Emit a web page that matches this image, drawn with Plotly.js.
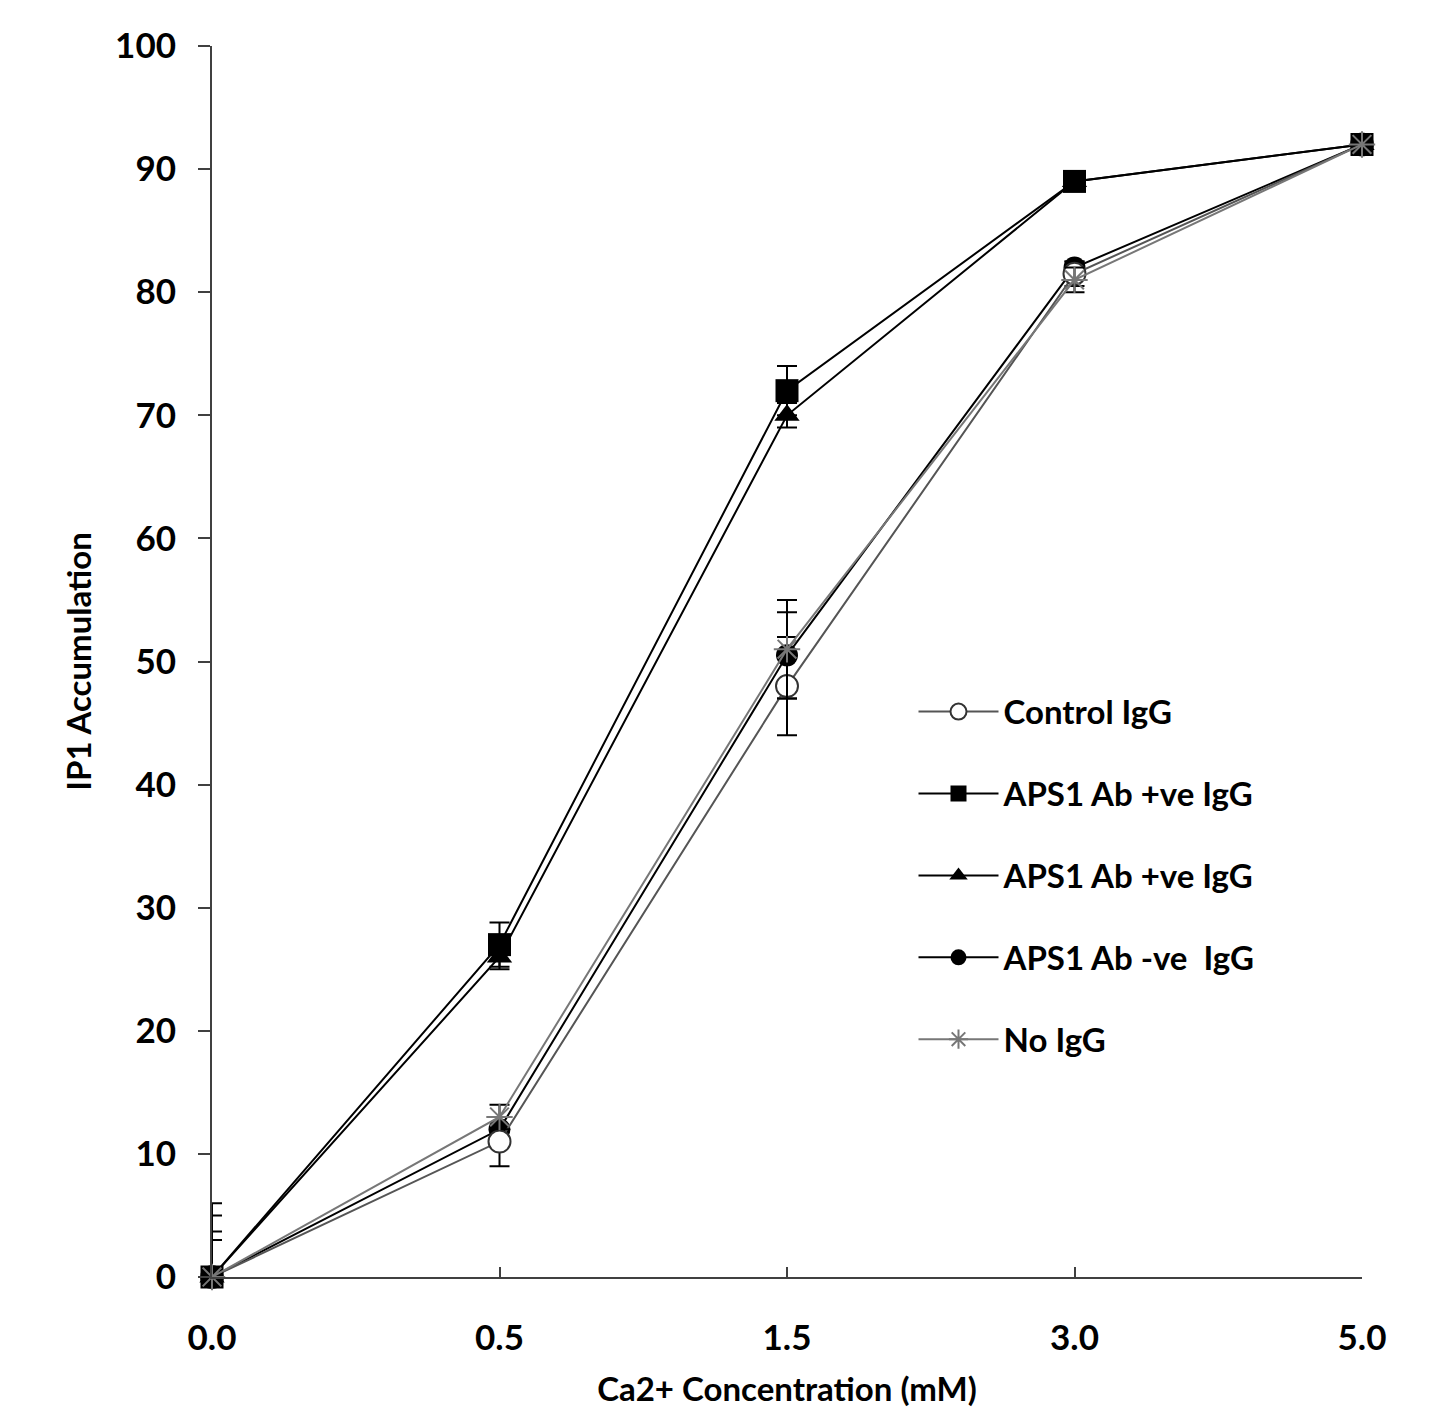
<!DOCTYPE html>
<html>
<head>
<meta charset="utf-8">
<script src="https://cdn.plot.ly/plotly-3.0.1.min.js"></script>
<style>html,body{margin:0;padding:0;background:#fff;}#chart{width:1435px;height:1411px;}</style>
</head>
<body>
<div id="chart"></div>
<script>
var categories = ['0.0', '0.5', '1.5', '3.0', '5.0'];
var seriesNames = ['Control IgG', 'APS1 Ab +ve IgG', 'APS1 Ab +ve IgG', 'APS1 Ab -ve  IgG', 'No IgG'];
var controlIgG = [0, 11, 48, 81.5, 92];
var controlErr = [3, 2, 4, 1, 0.5];
var apsPosSquare = [0, 27, 72, 89, 92];
var apsPosSquareErr = [6, 1.8, 2, 0.5, 0.5];
var apsPosTriangle = [0, 26, 70, 89, 92];
var apsPosTriangleErr = [5, 1, 1, 0.5, 0.5];
var apsNeg = [0, 12, 50.5, 82, 92];
var apsNegErr = [3.7, 1, 3.5, 0.5, 0.5];
var noIgG = [0, 13, 51, 81, 92];
var noIgGErr = [0, 1, 4, 1, 0.5];
var yTickVals = [0, 10, 20, 30, 40, 50, 60, 70, 80, 90, 100];

var FONT = 'Lato, "Open Sans", sans-serif';

function mk(name, y, err, lineColor, symbol, size, mColor, mLine, group, rank) {
  return {
    type: 'scatter', mode: 'lines+markers', x: categories, y: y, name: name,
    legendgroup: group, legendrank: rank, cliponaxis: false,
    line: {color: lineColor, width: 2},
    marker: {symbol: symbol, size: size, color: mColor, line: mLine},
    error_y: {type: 'data', array: err, visible: true, color: '#000', thickness: 2, width: 10}
  };
}

var data = [
  mk(seriesNames[3], apsNeg, apsNegErr, '#000000', 'circle', 22, '#000000', {color: '#000000', width: 0}, 'g4', 4),
  mk(seriesNames[0], controlIgG, controlErr, '#555555', 'circle', 22, '#ffffff', {color: '#333333', width: 2}, 'g1', 1),
  mk(seriesNames[1], apsPosSquare, apsPosSquareErr, '#000000', 'square', 23, '#000000', {color: '#000000', width: 0}, 'g2', 2),
  mk(seriesNames[2], apsPosTriangle, apsPosTriangleErr, '#000000', 'triangle-up', 22, '#000000', {color: '#000000', width: 0}, 'g3', 3),
  mk(seriesNames[4], noIgG, noIgGErr, '#777777', 'asterisk-open', 22, '#777777', {color: '#777777', width: 2}, 'g5', 5)
];

var layout = {
  width: 1435, height: 1411,
  paper_bgcolor: '#fff', plot_bgcolor: '#fff',
  margin: {l: 212, r: 73, t: 46, b: 134},
  font: {family: FONT, color: '#000'},
  showlegend: true,
  legend: {
    x: 0.61, y: 0.482, xanchor: 'left', yanchor: 'top',
    bgcolor: 'rgba(0,0,0,0)', borderwidth: 0,
    font: {family: FONT, size: 33, color: '#000', weight: 'bold'},
    traceorder: 'grouped', tracegroupgap: 36, itemwidth: 80
  },
  xaxis: {
    type: 'category', range: [0, 4],
    showgrid: false, zeroline: false,
    showline: true, linecolor: '#404040', linewidth: 2,
    ticks: 'inside', ticklen: 10, tickwidth: 2, tickcolor: '#404040',
    ticklabelstandoff: 29,
    tickfont: {family: FONT, size: 35, weight: 'bold', color: '#000'},
    title: {text: 'Ca2+ Concentration (mM)', font: {family: FONT, size: 33, weight: 'bold', color: '#000'}, standoff: 22}
  },
  yaxis: {
    range: [0, 100], tickvals: yTickVals,
    showgrid: false, zeroline: false,
    showline: true, linecolor: '#404040', linewidth: 2,
    ticks: 'outside', ticklen: 12, tickwidth: 2, tickcolor: '#404040',
    ticklabelstandoff: 15,
    tickfont: {family: FONT, size: 35, weight: 'bold', color: '#000'},
    title: {text: 'IP1 Accumulation', font: {family: FONT, size: 33, weight: 'bold', color: '#000'}, standoff: 14}
  }
};

Plotly.newPlot('chart', data, layout, {staticPlot: true});
</script>
</body>
</html>
